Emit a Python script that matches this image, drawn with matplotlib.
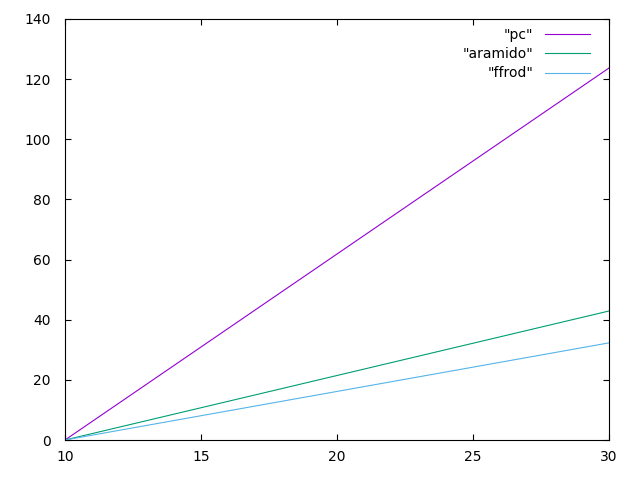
import matplotlib
matplotlib.use("Agg")
import matplotlib.pyplot as plt

x = [10, 30]
pc = [0, 123.7]
aramido = [0, 42.9]
ffrod = [0, 32.3]
labels = ['"pc"', '"aramido"', '"ffrod"']
colors = ["#9400D3", "#009E73", "#56B4E9"]

plt.rcParams['font.family'] = ['DejaVu Sans']
fig = plt.figure(figsize=(6.4, 4.8), dpi=100)
ax = fig.add_axes([65/640, 40/480, (609-65)/640, (440-19)/480])
for y, lab, c in zip([pc, aramido, ffrod], labels, colors):
    ax.plot(x, y, color=c, lw=0.8, label=lab)
ax.set_xlim(10, 30)
ax.set_ylim(0, 140)
ax.set_xticks([10, 15, 20, 25, 30])
ax.set_yticks(range(0, 141, 20))
ax.tick_params(direction='in', top=True, right=True, length=4.5, labelsize=10, width=0.8)
ax.tick_params(axis='x', pad=7.5)
ax.tick_params(axis='y', pad=10.5)
for s in ax.spines.values():
    s.set_linewidth(0.8)
leg = ax.legend(loc='upper right', frameon=False, markerfirst=False, fontsize=10,
                handlelength=3.24, handletextpad=0.86, labelspacing=0.37,
                bbox_to_anchor=(0.988, 1.008))
for t in leg.get_texts():
    t.set_ha('right')
fig.savefig("out.png", dpi=100)
